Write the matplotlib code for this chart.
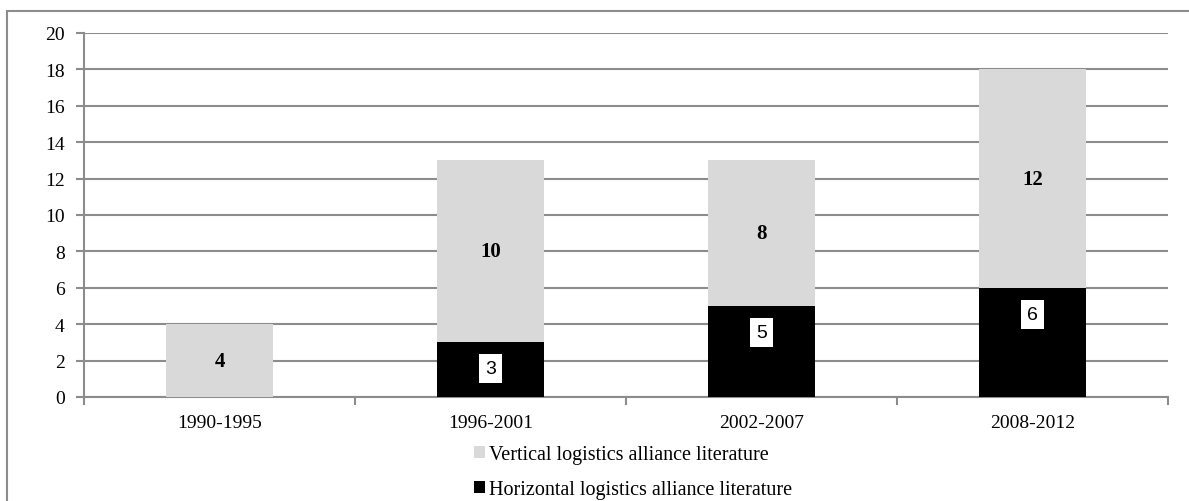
import matplotlib
matplotlib.use("Agg")
import matplotlib.pyplot as plt
from matplotlib.patches import Patch
from matplotlib.lines import Line2D
import numpy as np

# Dati
periodi = ["1990-1995", "1996-2001", "2002-2007", "2008-2012"]
orizzontale = [0, 3, 5, 6]
verticale = [4, 10, 8, 12]

COL_VERT = "#d9d9d9"
COL_ORIZ = "#000000"
COL_GRID = "#8c8c8c"

plt.rcParams["font.family"] = ["Liberation Serif", "DejaVu Serif"]

fig = plt.figure(figsize=(11.89, 5.02), dpi=100)
ax = fig.add_axes([84 / 1189, 1 - 398 / 502, (1168 - 84) / 1189, (398 - 34) / 502])

x = np.arange(len(periodi))
larghezza = 0.395
ax.bar(x, orizzontale, larghezza, color=COL_ORIZ, zorder=3)
ax.bar(x, verticale, larghezza, bottom=orizzontale, color=COL_VERT, zorder=3)

# Etichette dei valori
for xi, o, v in zip(x, orizzontale, verticale):
    if v > 0:
        ax.text(xi, o + v / 2, str(v), ha="center", va="center",
                fontsize=15, fontweight="bold", zorder=5)
    if o > 0:
        ax.text(xi, o - 1.45, str(o), ha="center", va="center", fontsize=14,
                family="Liberation Sans", zorder=5,
                bbox=dict(boxstyle="square,pad=0.3", fc="white", ec="none"))

ax.set_xlim(-0.5, len(periodi) - 0.5)
ax.set_ylim(0, 20)
ax.set_yticks(range(0, 21, 2))
ax.yaxis.grid(True, color=COL_GRID, linewidth=1.5, zorder=0)
ax.set_axisbelow(True)

# Tacche dell'asse x ai confini delle categorie
ax.set_xticks(np.arange(-0.5, len(periodi), 1.0))
ax.set_xticklabels([])
ax.set_xticks(x, minor=True)
ax.set_xticklabels(periodi, minor=True)
ax.tick_params(axis="x", which="minor", length=0, pad=12, labelsize=14)
ax.tick_params(axis="x", which="major", length=6, width=1.5, color=COL_GRID)
ax.tick_params(axis="y", length=6, width=1.5, color=COL_GRID, labelsize=14, pad=8)

for lato in ["top", "right"]:
    ax.spines[lato].set_visible(False)
for lato in ["left", "bottom"]:
    ax.spines[lato].set_color(COL_GRID)
    ax.spines[lato].set_linewidth(1.5)

# Legenda
maniglie = [Patch(facecolor=COL_VERT, edgecolor="none"),
            Patch(facecolor=COL_ORIZ, edgecolor="none")]
etichette = ["Vertical logistics alliance literature",
             "Horizontal logistics alliance literature"]
fig.legend(maniglie, etichette, loc="center", bbox_to_anchor=(633 / 1189, 1 - 473 / 502),
           ncol=1, frameon=False, fontsize=14.5, handlelength=0.55, handleheight=0.55,
           handletextpad=0.2, labelspacing=0.8, borderpad=0)

# Cornice esterna
fig.add_artist(Line2D([7 / 1189, 7 / 1189], [0, 1 - 12 / 502], transform=fig.transFigure,
                      color=COL_GRID, linewidth=1.5))
fig.add_artist(Line2D([7 / 1189, 1.0], [1 - 12 / 502, 1 - 12 / 502], transform=fig.transFigure,
                      color=COL_GRID, linewidth=1.5))

fig.savefig("out.png", dpi=100)
